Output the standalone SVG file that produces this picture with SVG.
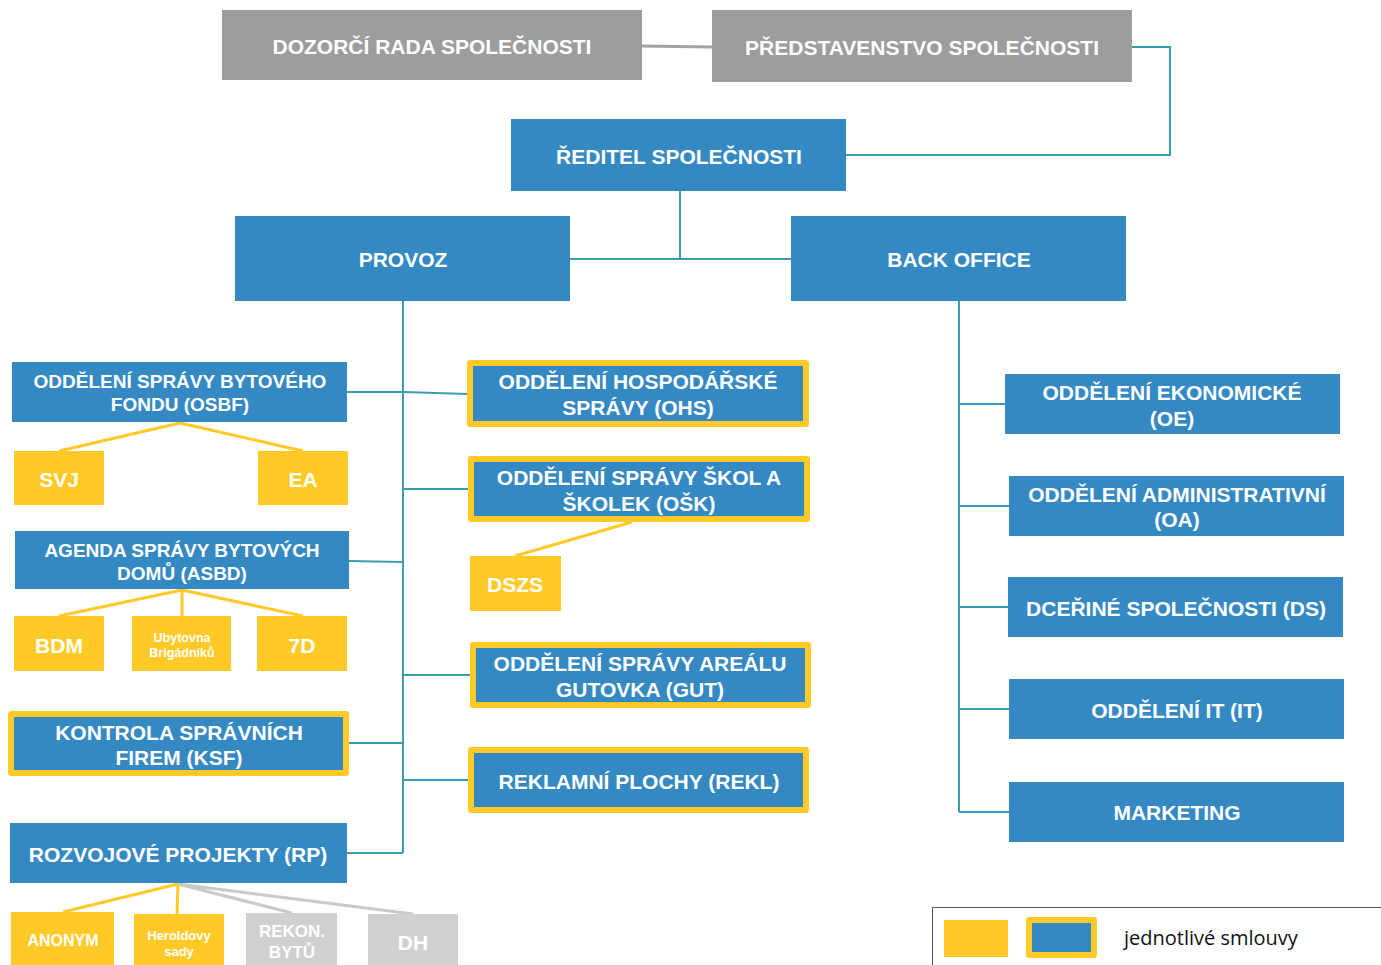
<svg xmlns="http://www.w3.org/2000/svg" width="1381" height="965" viewBox="0 0 1381 965">
<style>
.gray{fill:#9C9D9C}
.blue{fill:#3589C3}
.yel{fill:#FFCA27}
.lgray{fill:#D0D0CF}
.t{font-family:"Liberation Sans",Arial,sans-serif;font-weight:bold;fill:#fff;text-anchor:middle;dominant-baseline:central}
.f21{font-size:21px}
.f19{font-size:19px}
.teal{stroke:#3C9CAF;stroke-width:2;fill:none}
.yl{stroke:#FFCA27;stroke-width:3;fill:none}
.gl{stroke:#C9C9C9;stroke-width:3;fill:none}
</style>
<rect width="1381" height="965" fill="#fff"/>
<g id="connectors">
<line x1="642" y1="46" x2="712" y2="47" stroke="#A3A3A3" stroke-width="3"/>
<polyline class="teal" points="1132,47 1170,47 1170,155 846,155"/>
<polyline class="teal" points="680,191 680,259"/>
<polyline class="teal" points="570,259 791,259"/>
<polyline class="teal" points="403,301 403,853"/>
<polyline class="teal" points="959,301 959,812"/>
<polyline class="teal" points="347,392 403,392 468,394"/>
<polyline class="teal" points="349,561 403,562"/>
<polyline class="teal" points="349,743 403,743"/>
<polyline class="teal" points="347,853 403,853"/>
<polyline class="teal" points="403,489 469,489"/>
<polyline class="teal" points="403,675 471,675"/>
<polyline class="teal" points="403,780 469,780"/>
<polyline class="teal" points="959,404 1005,404"/>
<polyline class="teal" points="959,506 1009,506"/>
<polyline class="teal" points="959,607 1008,607"/>
<polyline class="teal" points="959,709 1009,709"/>
<polyline class="teal" points="959,812 1009,812"/>
<line class="yl" x1="180" y1="423" x2="59" y2="451"/>
<line class="yl" x1="180" y1="423" x2="303" y2="451"/>
<line class="yl" x1="182" y1="590" x2="59" y2="616"/>
<line class="yl" x1="182" y1="590" x2="182" y2="616"/>
<line class="yl" x1="182" y1="590" x2="303" y2="616"/>
<line class="yl" x1="632" y1="522" x2="515" y2="556"/>
<line class="gl" x1="178" y1="884" x2="292" y2="913"/>
<line class="gl" x1="178" y1="884" x2="413" y2="914"/>
<line class="yl" x1="178" y1="884" x2="63" y2="912"/>
<line class="yl" x1="178" y1="884" x2="177" y2="914"/>
</g>
<g id="dozorci"><rect class="gray" x="222" y="10" width="420" height="70"/><text class="t f21" x="432" y="46">DOZORČÍ RADA SPOLEČNOSTI</text></g>
<g id="predstavenstvo"><rect class="gray" x="712" y="10" width="420" height="72"/><text class="t f21" x="922" y="47">PŘEDSTAVENSTVO SPOLEČNOSTI</text></g>
<g id="reditel"><rect class="blue" x="511" y="119" width="335" height="72"/><text class="t f21" x="679" y="156">ŘEDITEL SPOLEČNOSTI</text></g>
<g id="provoz"><rect class="blue" x="235" y="216" width="335" height="85"/><text class="t f21" x="403" y="259">PROVOZ</text></g>
<g id="backoffice"><rect class="blue" x="791" y="216" width="335" height="85"/><text class="t f21" x="959" y="259">BACK OFFICE</text></g>
<g id="osbf"><rect class="blue" x="12" y="362" width="335" height="60"/><text class="t f19" x="180" y="381">ODDĚLENÍ SPRÁVY BYTOVÉHO</text><text class="t f19" x="180" y="404">FONDU (OSBF)</text></g>
<g id="svj"><rect class="yel" x="14" y="451" width="90" height="54"/><text class="t f21" x="59" y="479">SVJ</text></g>
<g id="ea"><rect class="yel" x="258" y="451" width="90" height="54"/><text class="t f21" x="303" y="479">EA</text></g>
<g id="asbd"><rect class="blue" x="15" y="531" width="334" height="58"/><text class="t f19" x="182" y="550">AGENDA SPRÁVY BYTOVÝCH</text><text class="t f19" x="182" y="573">DOMŮ (ASBD)</text></g>
<g id="bdm"><rect class="yel" x="14" y="616" width="90" height="55"/><text class="t f21" x="59" y="645">BDM</text></g>
<g id="ubytovna"><rect class="yel" x="132" y="616" width="99" height="55"/><text class="t" font-size="12.5" x="182" y="638">Ubytovna</text><text class="t" font-size="12.5" x="182" y="653">Brigádníků</text></g>
<g id="d7"><rect class="yel" x="257" y="616" width="90" height="55"/><text class="t f21" x="302" y="645">7D</text></g>
<g id="ksf"><rect class="yel" x="8" y="711" width="341" height="65" rx="3"/><rect class="blue" x="14" y="717" width="329" height="53"/><text class="t f21" x="179" y="732">KONTROLA SPRÁVNÍCH</text><text class="t f21" x="179" y="757">FIREM (KSF)</text></g>
<g id="rp"><rect class="blue" x="10" y="823" width="337" height="60"/><text class="t f21" x="178" y="854">ROZVOJOVÉ PROJEKTY (RP)</text></g>
<g id="anonym"><rect class="yel" x="11" y="912" width="103" height="53"/><text class="t" font-size="16" x="63" y="940">ANONYM</text></g>
<g id="heroldovy"><rect class="yel" x="134" y="914" width="90" height="51"/><text class="t" font-size="13" x="179" y="935">Heroldovy</text><text class="t" font-size="13" x="179" y="951">sady</text></g>
<g id="rekon"><rect class="lgray" x="246" y="913" width="91" height="52"/><text class="t" font-size="17" x="292" y="931">REKON.</text><text class="t" font-size="17" x="292" y="952">BYTŮ</text></g>
<g id="dh"><rect class="lgray" x="368" y="914" width="90" height="51"/><text class="t f21" x="413" y="942">DH</text></g>
<g id="ohs"><rect class="yel" x="467" y="360" width="342" height="67" rx="3"/><rect class="blue" x="473" y="366" width="330" height="55"/><text class="t f21" x="638" y="381">ODDĚLENÍ HOSPODÁŘSKÉ</text><text class="t f21" x="638" y="407">SPRÁVY (OHS)</text></g>
<g id="osk"><rect class="yel" x="468" y="456" width="342" height="66" rx="3"/><rect class="blue" x="474" y="462" width="330" height="54"/><text class="t f21" x="639" y="477">ODDĚLENÍ SPRÁVY ŠKOL A</text><text class="t f21" x="639" y="503">ŠKOLEK (OŠK)</text></g>
<g id="dszs"><rect class="yel" x="470" y="556" width="91" height="55"/><text class="t f21" x="515" y="584">DSZS</text></g>
<g id="gut"><rect class="yel" x="470" y="642" width="341" height="66" rx="3"/><rect class="blue" x="476" y="648" width="329" height="54"/><text class="t f21" x="640" y="663">ODDĚLENÍ SPRÁVY AREÁLU</text><text class="t f21" x="640" y="689">GUTOVKA (GUT)</text></g>
<g id="rekl"><rect class="yel" x="468" y="747" width="341" height="66" rx="3"/><rect class="blue" x="474" y="753" width="329" height="54"/><text class="t f21" x="639" y="781">REKLAMNÍ PLOCHY (REKL)</text></g>
<g id="oe"><rect class="blue" x="1005" y="374" width="335" height="60"/><text class="t f21" x="1172" y="392">ODDĚLENÍ EKONOMICKÉ</text><text class="t f21" x="1172" y="418">(OE)</text></g>
<g id="oa"><rect class="blue" x="1009" y="476" width="335" height="60"/><text class="t f21" x="1177" y="494">ODDĚLENÍ ADMINISTRATIVNÍ</text><text class="t f21" x="1177" y="519">(OA)</text></g>
<g id="ds"><rect class="blue" x="1008" y="577" width="335" height="60"/><text class="t f21" x="1176" y="608">DCEŘINÉ SPOLEČNOSTI (DS)</text></g>
<g id="it"><rect class="blue" x="1009" y="679" width="335" height="60"/><text class="t f21" x="1177" y="710">ODDĚLENÍ IT (IT)</text></g>
<g id="marketing"><rect class="blue" x="1009" y="782" width="335" height="60"/><text class="t f21" x="1177" y="812">MARKETING</text></g>
<g id="legend">
<rect x="932.5" y="907.5" width="460" height="70" fill="none" stroke="#555" stroke-width="1"/>
<rect class="yel" x="944" y="920" width="64" height="37"/>
<rect class="yel" x="1026" y="917" width="71" height="41" rx="3"/>
<rect class="blue" x="1032" y="923" width="59" height="29"/>
<text x="1124" y="937" font-family="'Open Sans','Liberation Sans',sans-serif" font-size="20" fill="#111" dominant-baseline="central">jednotlivé smlouvy</text>
</g>
</svg>
